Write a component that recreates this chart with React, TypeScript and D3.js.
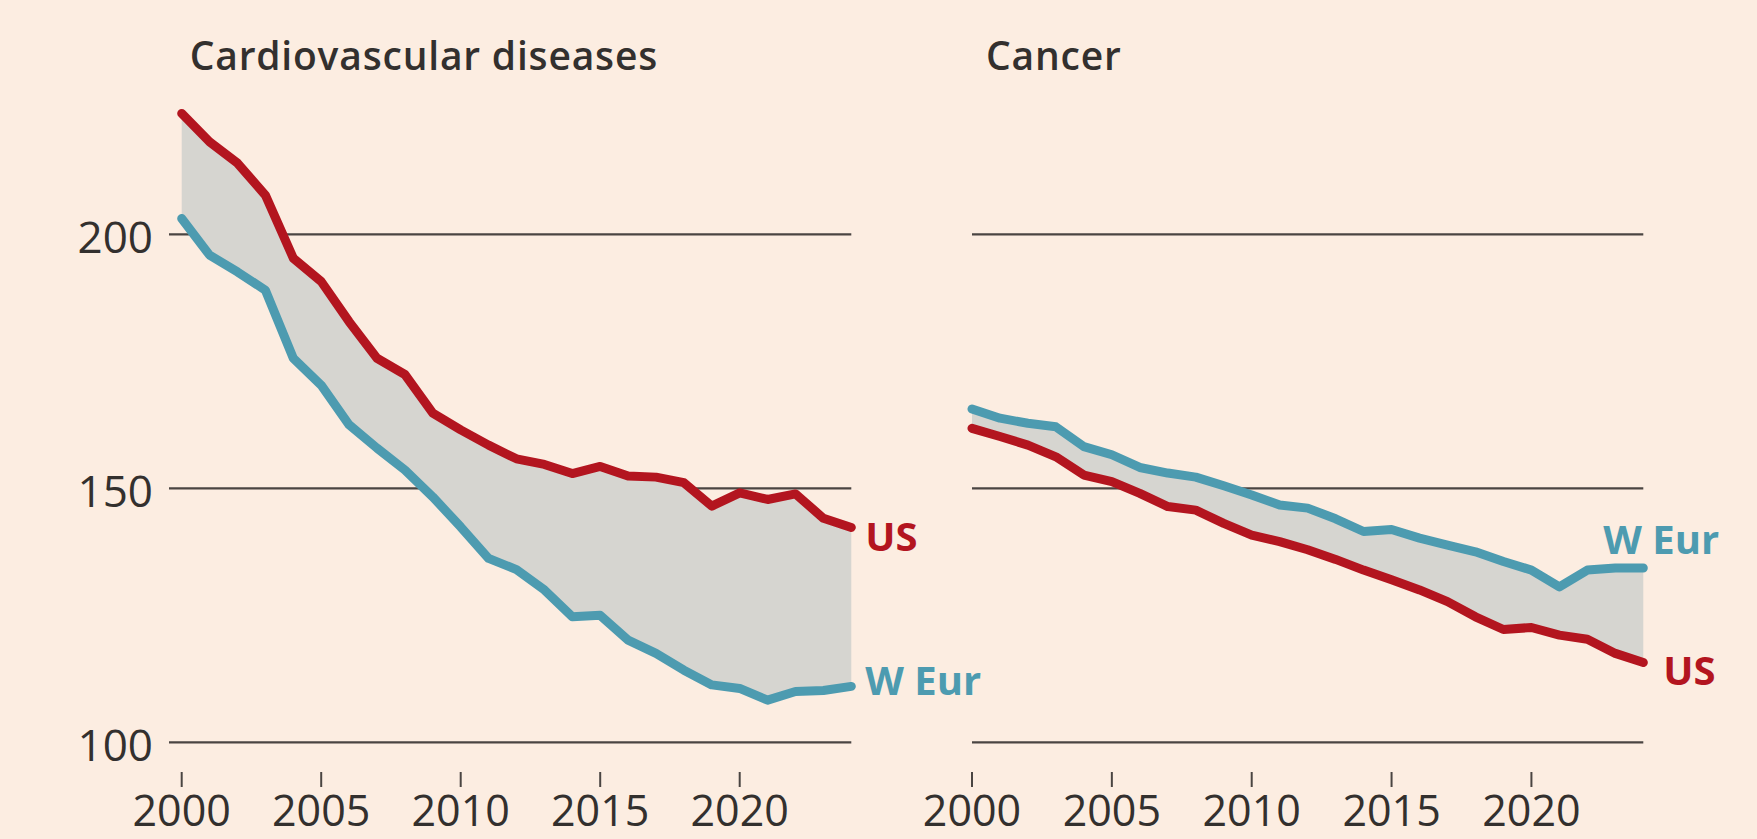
import React from 'react'
import * as d3 from 'd3'

// age-standardised death rates
const years = [2000, 2001, 2002, 2003, 2004, 2005, 2006, 2007, 2008, 2009, 2010, 2011, 2012,
  2013, 2014, 2015, 2016, 2017, 2018, 2019, 2020, 2021, 2022, 2023, 2024]

const cvdUS = [223.8, 218.2, 214, 207.7, 195.3, 190.7, 182.8, 175.6, 172.4, 164.8, 161.5, 158.5, 155.8,
  154.7, 152.9, 154.3, 152.4, 152.2, 151.1, 146.5, 149.1, 147.8, 148.9, 144.1, 142.3]
const cvdWEur = [203.1, 195.9, 192.6, 189, 175.6, 170.3, 162.5, 157.9, 153.6, 148.3, 142.4, 136.2, 134,
  130, 124.7, 125, 120.1, 117.5, 114.2, 111.3, 110.6, 108.3, 110, 110.2, 111]

const cancerUS = [161.8, 160.2, 158.5, 156.2, 152.6, 151.3, 149, 146.4, 145.7, 143.1, 140.8, 139.5, 137.9,
  136, 133.9, 132, 130, 127.7, 124.7, 122.2, 122.6, 121.1, 120.3, 117.5, 115.7]
const cancerWEur = [165.6, 163.8, 162.8, 162.1, 158.2, 156.6, 154.1, 153, 152.2, 150.5, 148.7, 146.7, 146.1,
  144, 141.5, 141.9, 140.2, 138.8, 137.5, 135.6, 133.9, 130.6, 133.9, 134.3, 134.3]

const yTicks = [100, 150, 200]
const xTicks = [2000, 2005, 2010, 2015, 2020]

const BG = '#fcede1'
const INK = '#33302e'
const GRID = '#4a4542'
const RED = '#b3151f'
const BLUE = '#4d9bb0'
const FILL = '#d6d5d0'
const FONT = "'Open Sans', sans-serif"

const y = d3.scaleLinear().domain([100, 200]).range([742.3, 234.3])

function Panel({ title, titleDx, us, weur, x0, x1, gridStart, showY, usLabel, weurLabel }) {
  const x = d3.scaleLinear().domain([2000, 2024]).range([x0, x1])
  const rows = years.map((yr, i) => ({ yr, us: us[i], weur: weur[i] }))

  const area = d3.area()
    .x(d => x(d.yr))
    .y0(d => y(d.weur))
    .y1(d => y(d.us))
  const line = key => d3.line().x(d => x(d.yr)).y(d => y(d[key]))

  const last = rows[rows.length - 1]

  return (
    <g>
      <text x={x0 + titleDx} y={70} fontFamily={FONT} fontWeight={600} fontSize={39} letterSpacing={0.8}
        fill={INK}>{title}</text>

      {yTicks.map(t => (
        <g key={t}>
          <line x1={gridStart} x2={x1} y1={y(t)} y2={y(t)} stroke={GRID} strokeWidth={2.2} />
          {showY && (
            <text x={153} y={y(t) + 19} textAnchor="end" fontFamily={FONT} fontSize={44} fill={INK}>{t}</text>
          )}
        </g>
      ))}

      {xTicks.map(t => (
        <g key={t}>
          <line x1={x(t)} x2={x(t)} y1={772} y2={787} stroke={GRID} strokeWidth={2} />
          <text x={x(t)} y={826} textAnchor="middle" fontFamily={FONT} fontSize={43} fill={INK}>{t}</text>
        </g>
      ))}

      <path d={area(rows)} fill={FILL} />
      <path d={line('weur')(rows)} fill="none" stroke={BLUE} strokeWidth={9} strokeLinejoin="round" strokeLinecap="round" />
      <path d={line('us')(rows)} fill="none" stroke={RED} strokeWidth={9} strokeLinejoin="round" strokeLinecap="round" />

      <text x={x(last.yr) + usLabel[0]} y={y(last.us) + usLabel[1]} fontFamily={FONT} fontWeight={700}
        fontSize={40} fill={RED}>US</text>
      <text x={x(last.yr) + weurLabel[0]} y={y(last.weur) + weurLabel[1]} fontFamily={FONT} fontWeight={700}
        fontSize={40} fill={BLUE}>W Eur</text>
    </g>
  )
}

export default function App() {
  return (
    <svg width={1757} height={839} style={{ position: 'absolute', left: 0, top: 0, display: 'block', background: BG }}>
      <rect width={1757} height={839} fill={BG} />
      <Panel title="Cardiovascular diseases" titleDx={8} us={cvdUS} weur={cvdWEur}
        x0={181.7} x1={851.3} gridStart={169} showY
        usLabel={[14, 24]} weurLabel={[14, 9]} />
      <Panel title="Cancer" titleDx={14} us={cancerUS} weur={cancerWEur}
        x0={972} x1={1643.3} gridStart={972} showY={false}
        usLabel={[20, 22]} weurLabel={[-40, -14]} />
    </svg>
  )
}
